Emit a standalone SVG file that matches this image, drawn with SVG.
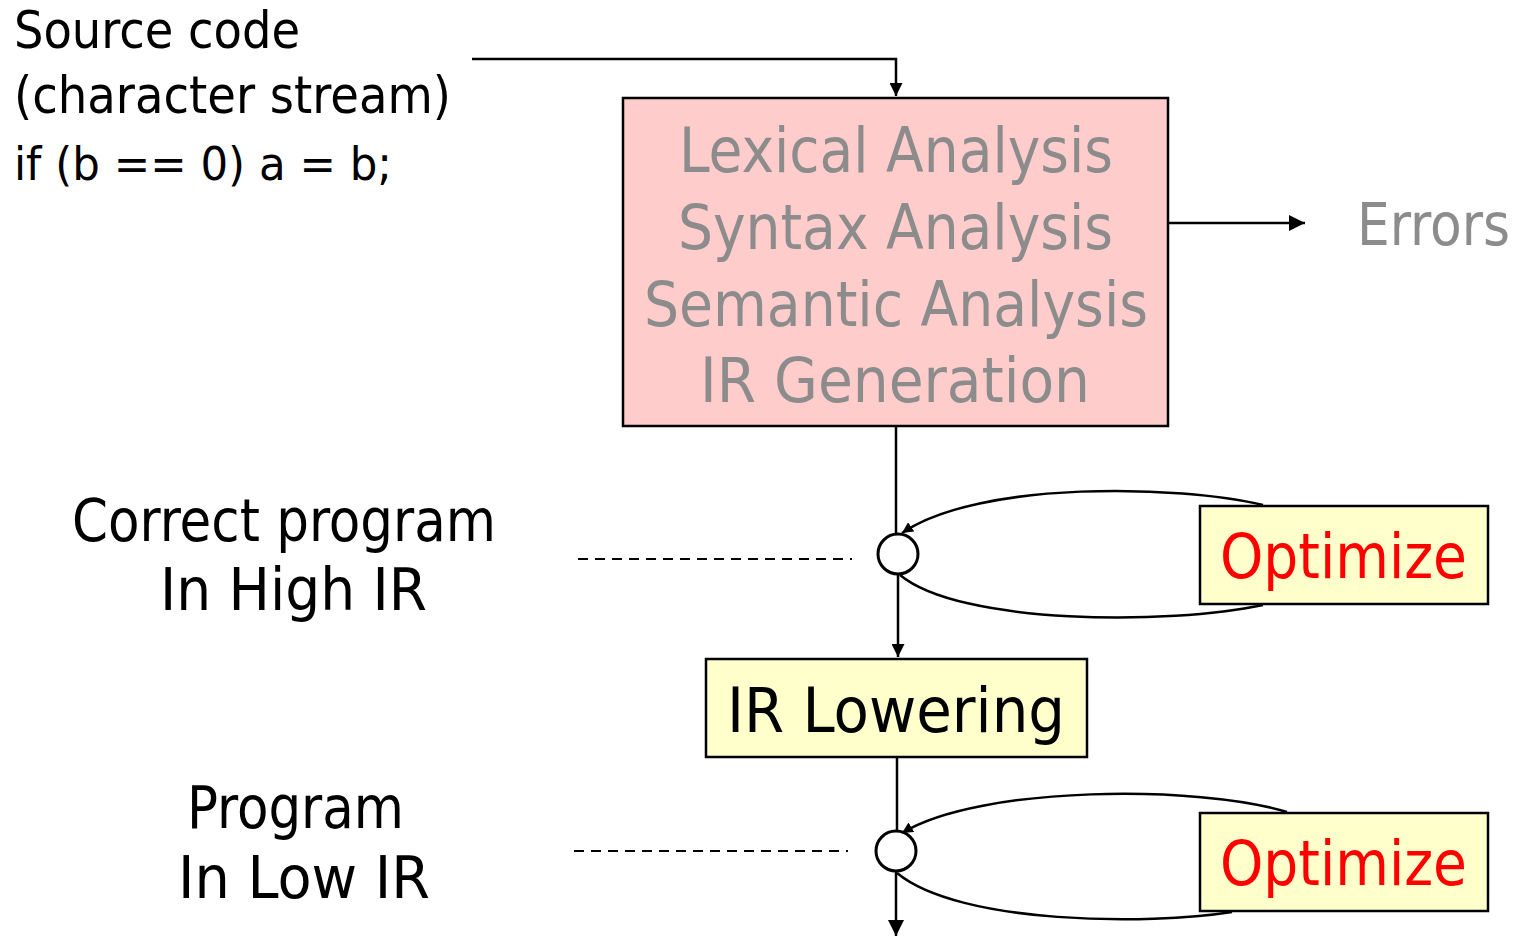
<svg xmlns="http://www.w3.org/2000/svg" width="1527" height="938" viewBox="0 0 1527 938">
<style>
text{font-family:"DejaVu Sans Condensed","DejaVu Sans",sans-serif}
.gray{fill:#8c8c8c;font-size:62px}
.red{fill:#ff0000;font-size:62px}
.ln{stroke:#000;stroke-width:2.5;fill:none}
.dash{stroke:#000;stroke-width:2;stroke-dasharray:10 7;fill:none}
</style>
<defs>
<marker id="ah" viewBox="0 0 10 10" refX="10" refY="5" markerWidth="13" markerHeight="13" orient="auto" markerUnits="userSpaceOnUse">
<path d="M0,0 L10,5 L0,10 z" fill="#000"/>
</marker>
<marker id="ahs" viewBox="0 0 10 10" refX="10" refY="5" markerWidth="11" markerHeight="11" orient="auto" markerUnits="userSpaceOnUse">
<path d="M0,0 L10,5 L0,10 z" fill="#000"/>
</marker>
<marker id="ahl" viewBox="0 0 10 10" refX="10" refY="5" markerWidth="16" markerHeight="16" orient="auto" markerUnits="userSpaceOnUse">
<path d="M0,0 L10,5 L0,10 z" fill="#000"/>
</marker>
</defs>
<g id="source-label">
<text x="14" y="48" font-size="52" textLength="286" lengthAdjust="spacingAndGlyphs">Source code</text>
<text x="14" y="113" font-size="52" textLength="437" lengthAdjust="spacingAndGlyphs">(character stream)</text>
<text x="14" y="180" font-size="46" textLength="378" lengthAdjust="spacingAndGlyphs">if (b == 0) a = b;</text>
</g>
<g id="front-end">
<rect x="623" y="98" width="545" height="328" fill="#ffcccc" stroke="#000" stroke-width="2.5"/>
<text class="gray" x="679" y="172" textLength="434" lengthAdjust="spacingAndGlyphs">Lexical Analysis</text>
<text class="gray" x="678" y="249" textLength="435" lengthAdjust="spacingAndGlyphs">Syntax Analysis</text>
<text class="gray" x="644" y="326" textLength="504" lengthAdjust="spacingAndGlyphs">Semantic Analysis</text>
<text class="gray" x="700" y="402" textLength="390" lengthAdjust="spacingAndGlyphs">IR Generation</text>
</g>
<g id="errors">
<text class="gray" x="1357" y="245" style="font-size:58px" textLength="153" lengthAdjust="spacingAndGlyphs">Errors</text>
</g>
<g id="high-ir-label">
<text x="72" y="541" font-size="58" textLength="424" lengthAdjust="spacingAndGlyphs">Correct program</text>
<text x="160" y="610" font-size="58" textLength="267" lengthAdjust="spacingAndGlyphs">In High IR</text>
</g>
<g id="low-ir-label">
<text x="187" y="828" font-size="58" textLength="217" lengthAdjust="spacingAndGlyphs">Program</text>
<text x="178" y="898" font-size="58" textLength="252" lengthAdjust="spacingAndGlyphs">In Low IR</text>
</g>
<g id="node-high">
<circle cx="898" cy="554" r="20" fill="#fff" stroke="#000" stroke-width="3"/>
</g>
<g id="node-low">
<circle cx="896" cy="851" r="20" fill="#fff" stroke="#000" stroke-width="3"/>
</g>
<g id="optimize-1">
<rect x="1200" y="506" width="288" height="98" fill="#ffffcc" stroke="#000" stroke-width="2.5"/>
<text class="red" x="1220" y="578" textLength="247" lengthAdjust="spacingAndGlyphs">Optimize</text>
</g>
<g id="ir-lowering">
<rect x="706" y="659" width="381" height="98" fill="#ffffcc" stroke="#000" stroke-width="2.5"/>
<text x="727" y="732" font-size="62" textLength="338" lengthAdjust="spacingAndGlyphs">IR Lowering</text>
</g>
<g id="optimize-2">
<rect x="1200" y="813" width="288" height="98" fill="#ffffcc" stroke="#000" stroke-width="2.5"/>
<text class="red" x="1220" y="885" textLength="247" lengthAdjust="spacingAndGlyphs">Optimize</text>
</g>
<g id="connectors">
<path class="ln" d="M472,59 H896 V96" marker-end="url(#ah)"/>
<path class="ln" d="M1168,223 H1305" marker-end="url(#ahl)"/>
<path class="ln" d="M896,426 V534"/>
<path class="ln" d="M898,574 V657" marker-end="url(#ah)"/>
<path class="ln" d="M897,757 V831"/>
<path class="ln" d="M896,871 V936" marker-end="url(#ahl)"/>
<path class="dash" d="M578,559 H852"/>
<path class="dash" d="M574,851 H848"/>
<path class="ln" d="M1263,505 C1180,485 980,480 902,533" marker-end="url(#ahs)"/>
<path class="ln" d="M900,575 C960,625 1170,625 1263,605"/>
<path class="ln" d="M1287,812 C1200,785 980,785 902,833" marker-end="url(#ahs)"/>
<path class="ln" d="M897,873 C960,925 1150,925 1232,912"/>
</g>
</svg>
